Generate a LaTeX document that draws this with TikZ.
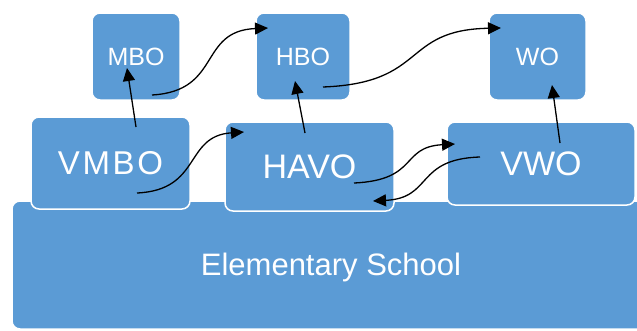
\documentclass[tikz,border=0pt]{standalone}
\usepackage{fontspec}
\setmainfont{Liberation Sans}
\usetikzlibrary{arrows.meta}
\definecolor{boxblue}{RGB}{91,155,213}
\begin{document}
\begin{tikzpicture}[x=1pt,y=-1pt,
  blk/.style={draw=white, line width=1.5pt, fill=boxblue, rounded corners=8pt, text=white, inner sep=0pt, anchor=center},
  lbl/.style={text=white, inner sep=0pt, anchor=center},
  arr/.style={line width=1.3pt, draw=black, -{Triangle[length=13pt,width=12pt]}},
  small/.style={font=\fontsize{25}{30}\selectfont},
  big/.style={font=\fontsize{34}{40}\selectfont}
]
\useasboundingbox (0,0) rectangle (637,330);
\begin{scope}
\clip (0,0) rectangle (637,330);
\node[blk, minimum width=648pt, minimum height=128pt] (ES) at (336,265) {};
\end{scope}
\node[lbl, font=\fontsize{31}{36}\selectfont] (ESt) at (331,267) {Elementary School};

\node[blk, small, minimum width=88pt, minimum height=87pt] (MBO) at (136,56.5) {MBO};
\node[blk, small, minimum width=94pt, minimum height=87pt] (HBO) at (303,56.5) {HBO};
\node[blk, small, minimum width=97pt, minimum height=87pt] (WO) at (537.5,56.5) {WO};

\node[blk, minimum width=159pt, minimum height=92pt, font=\fontsize{33}{38}\selectfont\addfontfeature{LetterSpace=8}] (VMBO) at (110.5,163) {VMBO};
\node[blk, big, minimum width=169pt, minimum height=89pt] (HAVO) at (309.5,166.5) {HAVO};
\node[blk, big, minimum width=188pt, minimum height=83pt] (VWO) at (541,163.5) {VWO};

% arrows
\draw[arr] ([shift={(25.5,-36)}]VMBO.center) -- ([shift={(-9,11.5)}]MBO.center);
\draw[arr] ([shift={(16,38.5)}]MBO.center) .. controls +(70,-4) and +(-70,3) .. ([shift={(-35,-28.5)}]HBO.center);
\draw[arr] ([shift={(26.5,30)}]VMBO.center) .. controls +(65,-3) and +(-60,4) .. ([shift={(-65.5,-34.5)}]HAVO.center);
\draw[arr] ([shift={(-4.5,-33.5)}]HAVO.center) -- ([shift={(-8,24.5)}]HBO.center);
\draw[arr] ([shift={(20,30.5)}]HBO.center) .. controls +(105,-4) and +(-100,2) .. ([shift={(-36.5,-28.5)}]WO.center);
\draw[arr] ([shift={(19,-20.5)}]VWO.center) -- ([shift={(14.5,28.5)}]WO.center);
\draw[arr] ([shift={(44.5,16.5)}]HAVO.center) .. controls +(65,-3) and +(-55,3) .. ([shift={(-86,-19.5)}]VWO.center);
\draw[arr] ([shift={(-61,-6.5)}]VWO.center) .. controls +(-65,2) and +(60,-3) .. ([shift={(63.5,34.5)}]HAVO.center);
\end{tikzpicture}
\end{document}
